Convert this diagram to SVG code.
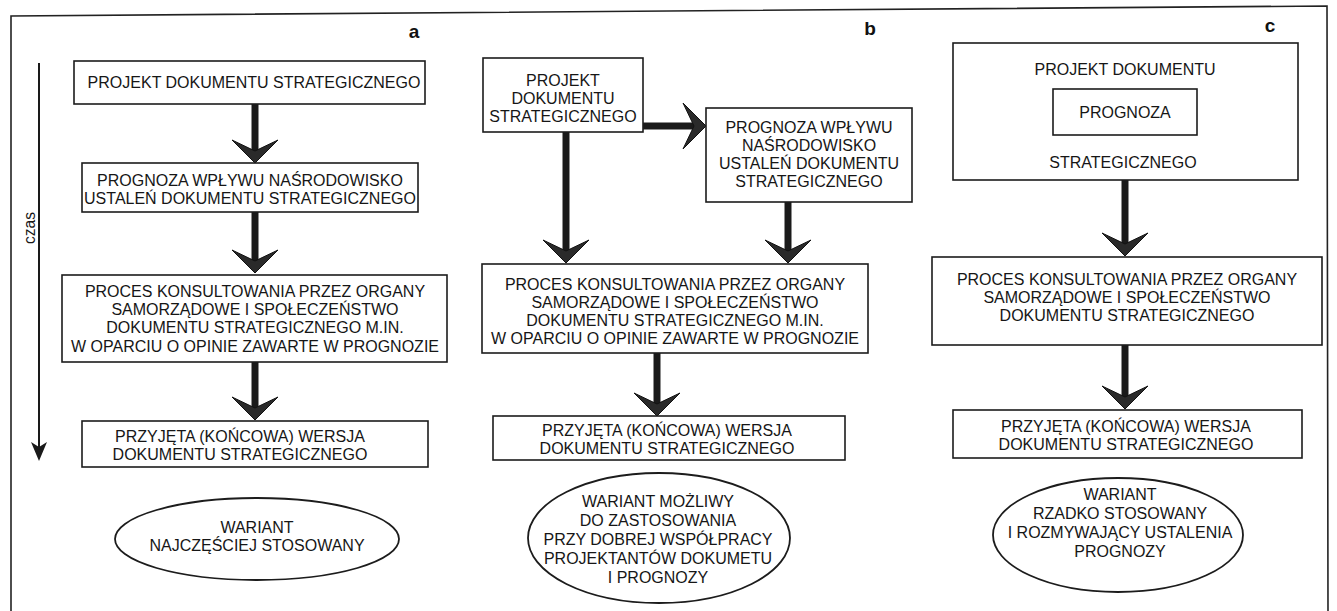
<svg xmlns="http://www.w3.org/2000/svg" width="1337" height="611" viewBox="0 0 1337 611">
<style>
.bx{fill:#fff;stroke:#1c1c1c;stroke-width:1.6}
.el{fill:#fff;stroke:#1c1c1c;stroke-width:1.8}
.t{font-family:"Liberation Sans",Arial,sans-serif;font-size:16px;fill:#161616;text-anchor:middle}
.lbl{font-family:"Liberation Sans",Arial,sans-serif;font-size:19px;font-weight:bold;fill:#111;text-anchor:middle}
.stem{stroke:#1a1a1a;stroke-width:7;fill:none}
.ah{fill:#2a2a2a;stroke:#111;stroke-width:1}
.frame{fill:none;stroke:#222;stroke-width:1.6}
</style>
<defs>
<path id="ahd" class="ah" d="M0,0 L-23,-23 L0,-12 L23,-23 Z"/>
</defs>
<rect width="1337" height="611" fill="#fff"/>
<path class="frame" d="M11,611 L11,16 L1327,6 L1328,611"/>

<g id="axis">
<line x1="39" y1="63" x2="39" y2="448" stroke="#1a1a1a" stroke-width="2"/>
<path d="M39,461 L31,442 L39,447 L47,442 Z" fill="#1a1a1a"/>
<text class="t" font-size="22" textLength="32" lengthAdjust="spacingAndGlyphs" transform="translate(35,228) rotate(-90)">czas</text>
</g>

<g id="labels">
<text class="lbl" x="414" y="38">a</text>
<text class="lbl" x="870" y="35">b</text>
<text class="lbl" x="1270" y="32">c</text>
</g>

<g id="connectors">
<line class="stem" x1="255" y1="104" x2="255" y2="152"/>
<use href="#ahd" x="255" y="163"/>
<line class="stem" x1="255" y1="212" x2="255" y2="262"/>
<use href="#ahd" x="255" y="273"/>
<line class="stem" x1="255" y1="362" x2="255" y2="408"/>
<use href="#ahd" x="255" y="420"/>

<line class="stem" x1="643" y1="126" x2="696" y2="126"/>
<use href="#ahd" transform="translate(706,126) rotate(-90)"/>
<line class="stem" x1="566" y1="132" x2="566" y2="252"/>
<use href="#ahd" x="566" y="263"/>
<line class="stem" x1="788" y1="202" x2="788" y2="252"/>
<use href="#ahd" x="788" y="263"/>
<line class="stem" x1="657" y1="353" x2="657" y2="405"/>
<use href="#ahd" x="657" y="416"/>

<line class="stem" x1="1125" y1="180" x2="1125" y2="246"/>
<use href="#ahd" x="1125" y="256"/>
<line class="stem" x1="1125" y1="345" x2="1125" y2="399"/>
<use href="#ahd" x="1125" y="409"/>
</g>

<g id="a1">
<rect class="bx" x="74" y="61" width="351" height="43"/>
<text class="t" x="254" y="88">PROJEKT DOKUMENTU STRATEGICZNEGO</text>
</g>
<g id="a2">
<rect class="bx" x="82" y="163" width="336" height="49"/>
<text class="t" x="250" y="186">PROGNOZA WPŁYWU NAŚRODOWISKO</text>
<text class="t" x="250" y="204">USTALEŃ DOKUMENTU STRATEGICZNEGO</text>
</g>
<g id="a3">
<rect class="bx" x="62" y="275" width="385" height="87"/>
<text class="t" x="255" y="297">PROCES KONSULTOWANIA PRZEZ ORGANY</text>
<text class="t" x="255" y="315">SAMORZĄDOWE I SPOŁECZEŃSTWO</text>
<text class="t" x="255" y="333">DOKUMENTU STRATEGICZNEGO M.IN.</text>
<text class="t" x="255" y="352">W OPARCIU O OPINIE ZAWARTE W PROGNOZIE</text>
</g>
<g id="a4">
<rect class="bx" x="82" y="421" width="346" height="46"/>
<text class="t" x="240" y="442">PRZYJĘTA (KOŃCOWA) WERSJA</text>
<text class="t" x="240" y="460">DOKUMENTU STRATEGICZNEGO</text>
</g>
<g id="a5">
<ellipse class="el" cx="257" cy="539" rx="142" ry="41"/>
<text class="t" x="257" y="533">WARIANT</text>
<text class="t" x="257" y="551">NAJCZĘŚCIEJ STOSOWANY</text>
</g>

<g id="b1">
<rect class="bx" x="483" y="58" width="160" height="74"/>
<text class="t" x="563" y="86">PROJEKT</text>
<text class="t" x="563" y="104">DOKUMENTU</text>
<text class="t" x="563" y="122">STRATEGICZNEGO</text>
</g>
<g id="b2">
<rect class="bx" x="706" y="108" width="206" height="94"/>
<text class="t" x="809" y="133">PROGNOZA WPŁYWU</text>
<text class="t" x="809" y="151">NAŚRODOWISKO</text>
<text class="t" x="809" y="169">USTALEŃ DOKUMENTU</text>
<text class="t" x="809" y="187">STRATEGICZNEGO</text>
</g>
<g id="b3">
<rect class="bx" x="482" y="264" width="386" height="89"/>
<text class="t" x="675" y="290">PROCES KONSULTOWANIA PRZEZ ORGANY</text>
<text class="t" x="675" y="308">SAMORZĄDOWE I SPOŁECZEŃSTWO</text>
<text class="t" x="675" y="326">DOKUMENTU STRATEGICZNEGO M.IN.</text>
<text class="t" x="675" y="344">W OPARCIU O OPINIE ZAWARTE W PROGNOZIE</text>
</g>
<g id="b4">
<rect class="bx" x="493" y="416" width="352" height="44"/>
<text class="t" x="667" y="436">PRZYJĘTA (KOŃCOWA) WERSJA</text>
<text class="t" x="667" y="454">DOKUMENTU STRATEGICZNEGO</text>
</g>
<g id="b5">
<ellipse class="el" cx="659" cy="538" rx="131" ry="65"/>
<text class="t" x="658" y="507">WARIANT MOŻLIWY</text>
<text class="t" x="658" y="526">DO ZASTOSOWANIA</text>
<text class="t" x="658" y="545">PRZY DOBREJ WSPÓŁPRACY</text>
<text class="t" x="658" y="564">PROJEKTANTÓW DOKUMETU</text>
<text class="t" x="658" y="583">I PROGNOZY</text>
</g>

<g id="c1">
<rect class="bx" x="953" y="43" width="345" height="137"/>
<text class="t" x="1125" y="75">PROJEKT DOKUMENTU</text>
<text class="t" x="1123" y="168">STRATEGICZNEGO</text>
</g>
<g id="c1p">
<rect class="bx" x="1053" y="89" width="144" height="46"/>
<text class="t" x="1125" y="118">PROGNOZA</text>
</g>
<g id="c2">
<rect class="bx" x="932" y="257" width="390" height="88"/>
<text class="t" x="1127" y="285">PROCES KONSULTOWANIA PRZEZ ORGANY</text>
<text class="t" x="1127" y="303">SAMORZĄDOWE I SPOŁECZEŃSTWO</text>
<text class="t" x="1127" y="321">DOKUMENTU STRATEGICZNEGO</text>
</g>
<g id="c3">
<rect class="bx" x="953" y="410" width="349" height="48"/>
<text class="t" x="1126" y="432">PRZYJĘTA (KOŃCOWA) WERSJA</text>
<text class="t" x="1126" y="450">DOKUMENTU STRATEGICZNEGO</text>
</g>
<g id="c4">
<ellipse class="el" cx="1118" cy="535" rx="125" ry="57"/>
<text class="t" x="1120" y="500">WARIANT</text>
<text class="t" x="1120" y="519">RZADKO STOSOWANY</text>
<text class="t" x="1120" y="538">I ROZMYWAJĄCY USTALENIA</text>
<text class="t" x="1120" y="557">PROGNOZY</text>
</g>
</svg>
